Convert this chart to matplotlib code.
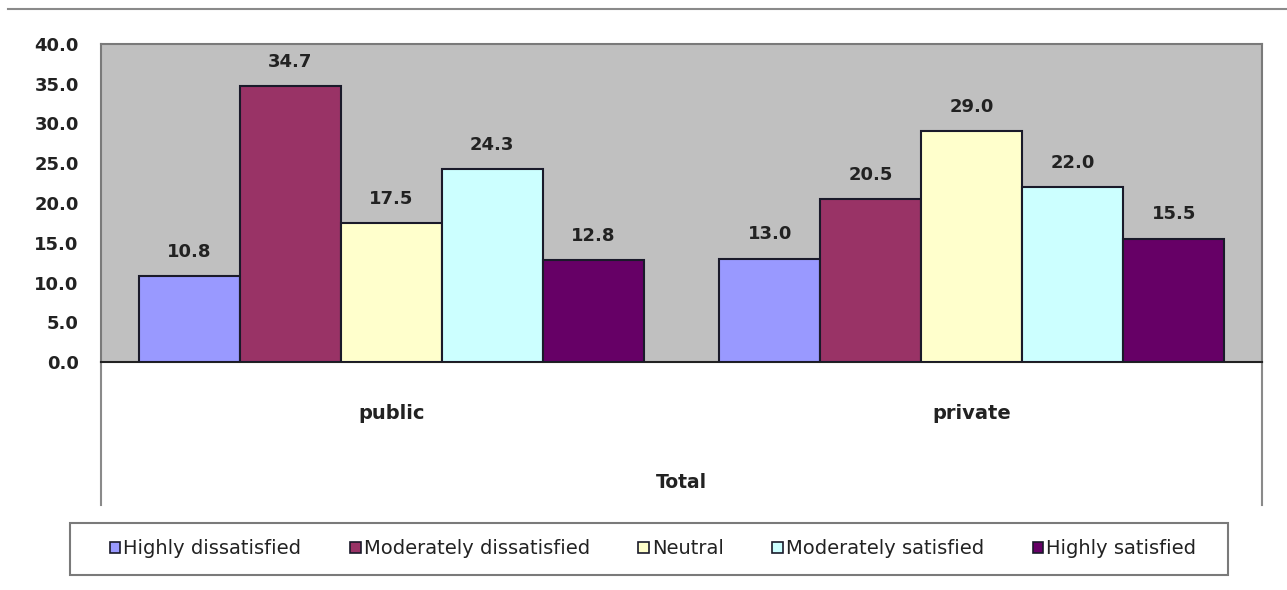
import matplotlib
matplotlib.use("Agg")
import matplotlib.pyplot as plt
from matplotlib.patches import Patch, Rectangle
from matplotlib.lines import Line2D
import numpy as np

# donnees
groups = ["public", "private"]
series = ["Highly dissatisfied", "Moderately dissatisfied", "Neutral",
          "Moderately satisfied", "Highly satisfied"]
highly_dissatisfied = [10.8, 13.0]
moderately_dissatisfied = [34.7, 20.5]
neutral = [17.5, 29.0]
moderately_satisfied = [24.3, 22.0]
highly_satisfied = [12.8, 15.5]
values = [highly_dissatisfied, moderately_dissatisfied, neutral,
          moderately_satisfied, highly_satisfied]
colors = ["#9999FF", "#993366", "#FFFFCC", "#CCFFFF", "#660066"]

plt.rcParams['font.family'] = ['DejaVu Sans']
txt = "#222222"
W, H = 1287, 590

fig = plt.figure(figsize=(12.87, 5.9), dpi=100)
ax = fig.add_axes([101 / W, (H - 362) / H, (1262 - 101) / W, (362 - 44) / H])
ax.set_facecolor("#C0C0C0")

x = np.arange(len(groups))
w = 0.174
for i, (vals, c) in enumerate(zip(values, colors)):
    pos = x + (i - 2) * w
    bars = ax.bar(pos, vals, w, color=c, edgecolor="#1a1a2a", linewidth=1.5, zorder=3)
    for b, v in zip(bars, vals):
        ax.annotate("%.1f" % v, (b.get_x() + b.get_width() / 2, v),
                    xytext=(0, 11), textcoords="offset points",
                    ha="center", va="bottom", fontsize=13, fontweight="bold",
                    color=txt)

ax.set_xlim(-0.5, 1.5)
ax.set_ylim(0, 40)
ax.set_yticks(np.arange(0, 41, 5))
ax.set_yticklabels(["%.1f" % t for t in np.arange(0, 41, 5)],
                   fontsize=13, fontweight="bold", color=txt)
ax.tick_params(axis="y", length=0, pad=16)
ax.set_xticks(x)
ax.set_xticklabels(groups, fontsize=14, fontweight="bold", color=txt)
ax.tick_params(axis="x", length=0, pad=30)

for s in ["top", "left", "right"]:
    ax.spines[s].set_color("#7a7a7a")
    ax.spines[s].set_linewidth(1.5)
ax.spines["bottom"].set_color("#222222")
ax.spines["bottom"].set_linewidth(1.5)

# lignes verticales sous l'axe
for xx in [0, 1]:
    ax.add_line(Line2D([xx, xx], [0, -0.45], transform=ax.transAxes,
                       color="#8a8a8a", linewidth=1.5, clip_on=False))

fig.text(681.5 / W, (H - 482) / H, "Total", ha="center", va="center",
         fontsize=13.5, fontweight="bold", color=txt)

# ligne du haut
fig.add_artist(Line2D([8 / W, 1.0], [(H - 9) / H] * 2,
                      color="#8a8a8a", linewidth=1.5))

# legende
handles = [Patch(facecolor=c, edgecolor="#1a1a2a", linewidth=1.2) for c in colors]
leg = fig.legend(handles, series, ncol=5, loc="center",
                 bbox_to_anchor=(653 / W, (H - 549) / H),
                 fontsize=14, frameon=False,
                 handlelength=0.55, handleheight=0.55, handletextpad=0.15,
                 columnspacing=2.5, borderpad=0, borderaxespad=0)
for t in leg.get_texts():
    t.set_color(txt)
fig.add_artist(Rectangle((70 / W, (H - 575) / H), (1228 - 70) / W, 52 / H,
                         transform=fig.transFigure, fill=False,
                         edgecolor="#7a7a7a", linewidth=1.5))

fig.savefig("out.png", dpi=100)
